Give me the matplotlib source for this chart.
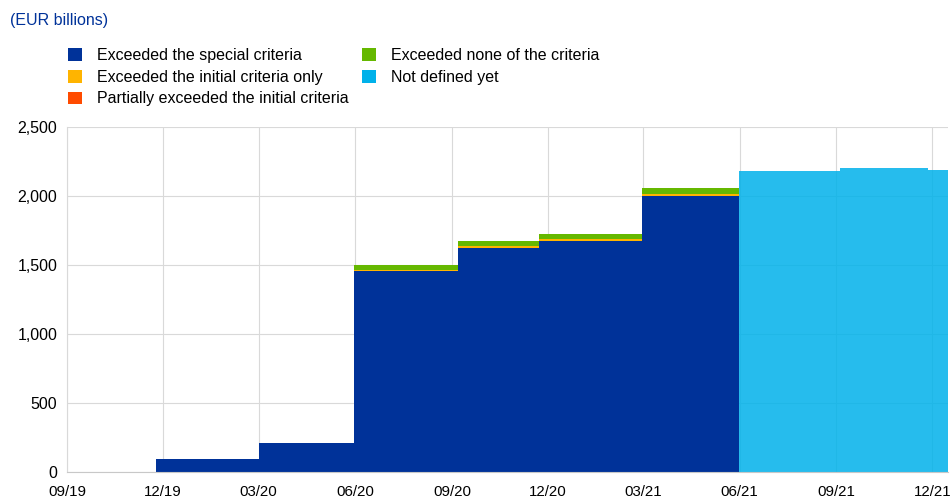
import matplotlib
matplotlib.use("Agg")
import matplotlib.pyplot as plt
import matplotlib.dates as mdates
from matplotlib.patches import Patch
from matplotlib.ticker import FuncFormatter
import numpy as np
import pandas as pd

plt.rcParams['font.family'] = ['Liberation Sans', 'DejaVu Sans']

# change dates of the outstanding amounts (last entry = end of chart)
dates = ["2019-09-01", "2019-11-25", "2020-03-01", "2020-05-31", "2020-09-06",
         "2020-11-22", "2021-02-28", "2021-05-31", "2021-08-07", "2021-09-04",
         "2021-11-27", "2021-12-16"]

# EUR billions per period
special   = [0,  95, 210, 1454, 1625, 1673, 1998, 0, 0, 0, 0]
initial   = [1,   1,   1,    8,   12,   13,   16, 0, 0, 0, 0]
partial   = [0,   0,   0,    2,    2,    2,    2, 0, 0, 0, 0]
none_crit = [2,   1,   2,   39,   35,   37,   40, 0, 0, 0, 0]
undefined = [0,   0,   0,    0,    0,    0,    0, 2181, 2179, 2200, 2191]

labels = ["Exceeded the special criteria", "Exceeded the initial criteria only",
          "Partially exceeded the initial criteria", "Exceeded none of the criteria",
          "Not defined yet"]
colors = ["#003299", "#FFB400", "#FF4B00", "#65B800", "#00B1EA"]
alphas = [1, 1, 1, 1, 0.85]

x = pd.to_datetime(dates)
series = [special, initial, partial, none_crit, undefined]

fig = plt.figure(figsize=(9.5, 4.98), dpi=100)
ax = fig.add_axes([67 / 950, 1 - 472 / 498, 881 / 950, 345 / 498])

base = np.zeros(len(x))
for vals, c, a in zip(series, colors, alphas):
    v = np.array(vals + [vals[-1]], dtype=float)
    ax.fill_between(x, base, base + v, step="post", color=c, alpha=a,
                    linewidth=0, zorder=2)
    base = base + v

ax.set_xlim(x[0], x[-1])
ax.set_ylim(0, 2500)
ax.set_yticks(np.arange(0, 2501, 500))
ax.yaxis.set_major_formatter(FuncFormatter(lambda v, p: f"{v:,.0f}"))
ticks = pd.date_range("2019-09-01", "2021-12-01", freq="3MS")
ax.set_xticks(ticks)
ax.xaxis.set_major_formatter(mdates.DateFormatter("%m/%y"))
ax.grid(True, color="#d9d9d9", linewidth=0.8, zorder=0)
ax.set_axisbelow(True)
for s in ["top", "right"]:
    ax.spines[s].set_visible(False)
ax.spines["left"].set_color("#d9d9d9")
ax.spines["bottom"].set_color("#c8c8c8")
ax.tick_params(length=0, colors="#000000")
ax.tick_params(axis="x", labelsize=10.8, pad=9)
ax.tick_params(axis="y", labelsize=11.5, pad=7)

fig.text(10 / 950, 1 - 20 / 498, "(EUR billions)", color="#003299",
         fontsize=11.5, va="center", ha="left")

handles = [Patch(facecolor=c, edgecolor="none") for c in colors]
fig.legend(handles, labels, loc="upper left", ncol=2, frameon=False,
           bbox_to_anchor=(68 / 950, 1 - 48 / 498), fontsize=11.5,
           handlelength=0.85, handleheight=0.85, handletextpad=0.95,
           columnspacing=0.85, labelspacing=0.42, borderpad=0, borderaxespad=0)

fig.savefig("out.png", dpi=100)
